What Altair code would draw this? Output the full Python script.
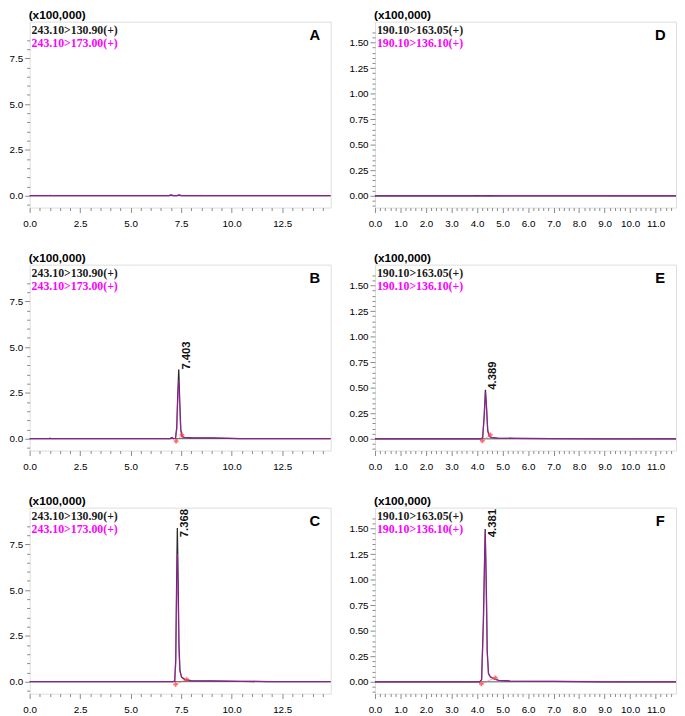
import altair as alt
import pandas as pd

# ---------------- data ----------------
LEFT_LEGEND = ["243.10>130.90(+)", "243.10>173.00(+)"]
RIGHT_LEGEND = ["190.10>163.05(+)", "190.10>136.10(+)"]
UNIT = "(x100,000)"

# Panel A (blank)
a_t   = [0.0, 0.95, 1.0, 1.05, 6.9, 7.0, 7.1, 7.3, 7.4, 7.5, 8.4, 8.5, 8.6, 14.9]
a_blk = [0, 0, 0, 0, 0, 0.04, 0, 0, 0.04, 0, 0, 0, 0, 0]
a_mag = [0, 0, 0.03, 0, 0, 0.05, 0, 0, 0.04, 0, 0, 0.02, 0, 0]

# Panel B
b_t   = [0.0, 0.95, 1.0, 1.05, 6.95, 7.05, 7.12, 7.22, 7.28, 7.33, 7.38, 7.43, 7.48, 7.54, 7.65, 8.0, 9.0, 9.8, 10.4, 14.9]
b_blk = [0, 0, 0.02, 0, 0, 0.06, 0, 0.02, 0.6, 2.4, 3.77, 2.0, 0.5, 0.12, 0.07, 0.05, 0.04, 0.02, 0, 0]
b_mag = [0, 0, 0.04, 0, 0, 0.05, 0, 0.02, 0.5, 2.1, 3.20, 1.7, 0.45, 0.11, 0.07, 0.05, 0.04, 0.03, 0, 0]
b_ev_t = [7.25, 7.54]
b_ev_v = [-0.14, 0.21]

# Panel C
c_t   = [0.0, 7.1, 7.18, 7.23, 7.27, 7.31, 7.35, 7.39, 7.44, 7.52, 7.7, 8.0, 9.0, 10.5, 11.8, 14.9]
c_blk = [0, 0, 0.03, 1.2, 5.0, 8.39, 5.5, 2.0, 0.6, 0.25, 0.1, 0.06, 0.04, 0.02, 0, 0]
c_mag = [0, 0, 0.03, 1.0, 4.2, 6.97, 4.6, 1.7, 0.55, 0.23, 0.1, 0.06, 0.04, 0.02, 0, 0]
c_ev_t = [7.22, 7.77]
c_ev_v = [-0.15, 0.12]

# Panel D (blank)
d_t   = [0.0, 3.8, 4.0, 4.2, 4.5, 4.7, 5.0, 9.0, 11.8]
d_blk = [0, 0, 0.003, 0, 0.003, 0, 0, 0, 0]
d_mag = [0, 0, 0, 0, 0, 0, 0.002, 0.002, 0]

# Panel E
e_t   = [0.0, 4.15, 4.22, 4.28, 4.33, 4.37, 4.42, 4.48, 4.56, 4.8, 5.5, 7.0, 9.0, 11.8]
e_blk = [0, 0, 0.01, 0.22, 0.48, 0.32, 0.08, 0.025, 0.015, 0.008, 0.004, 0.002, 0, 0]
e_mag = [0, 0, 0.01, 0.21, 0.46, 0.31, 0.08, 0.025, 0.015, 0.008, 0.004, 0.003, 0.001, 0]
e_ev_t = [4.21, 4.52]
e_ev_v = [-0.02, 0.04]

# Panel F
f_t   = [0.0, 4.1, 4.18, 4.25, 4.32, 4.36, 4.40, 4.45, 4.52, 4.65, 4.85, 5.3, 7.0, 9.0, 11.8]
f_blk = [0, 0, 0.02, 0.6, 1.495, 1.0, 0.3, 0.08, 0.05, 0.03, 0.015, 0.008, 0.004, 0, 0]
f_mag = [0, 0, 0.02, 0.55, 1.47, 0.95, 0.28, 0.08, 0.05, 0.03, 0.015, 0.008, 0.004, 0.002, 0]
f_ev_t = [4.17, 4.72]
f_ev_v = [-0.02, 0.04]

# ---------------- layout / style ----------------
W, H = 306, 189
SANS = "Liberation Sans"
SERIF = "Liberation Serif"

SIDES = {
    "left": dict(xdom=[0, 14.9], ydom=[-0.65, 9.5],
                 xmajor=2.5, xminor=0.5, xn=30, xfmt=".1f",
                 ymajor=2.5, yminor=0.5, ystart=-0.5, yn=19, yfmt=".1f",
                 legend=LEFT_LEGEND),
    "right": dict(xdom=[0, 11.8], ydom=[-0.115, 1.705],
                  xmajor=1.0, xminor=0.2, xn=59, xfmt=".1f",
                  ymajor=0.25, yminor=0.05, ystart=-0.1, yn=35, yfmt=".2f",
                  legend=RIGHT_LEGEND),
}


def make_axis(values, major, fmt, orient, **kw):
    test = f"abs(datum.value/{major} - round(datum.value/{major})) < 0.001"
    return alt.Axis(
        values=values, grid=False, domain=False,
        labelExpr=f"({test}) ? format(datum.value, '{fmt}') : ''",
        tickSize={"condition": {"test": test, "value": 5}, "value": 3},
        labelOverlap=False, labelFlush=False, orient=orient, title=None, **kw)


def txt(s, x, y, **kw):
    return alt.Chart(pd.DataFrame({"s": [s]})).mark_text(**kw).encode(
        x=alt.value(x), y=alt.value(y), text="s:N")


def panel(letter, t, blk, mag, ev_t, ev_v, rt, side):
    c = SIDES[side]
    xvals = [round(i * c["xminor"], 3) for i in range(c["xn"])]
    yvals = [round(c["ystart"] + i * c["yminor"], 3) for i in range(c["yn"])]
    xs = alt.Scale(domain=c["xdom"], nice=False, zero=False)
    ys = alt.Scale(domain=c["ydom"], nice=False, zero=False)
    xax = make_axis(xvals, c["xmajor"], c["xfmt"], "bottom", labelPadding=6)
    yax = make_axis(yvals, c["ymajor"], c["yfmt"], "left", labelPadding=2)
    X = alt.X("t:Q", scale=xs, axis=xax)
    Y = alt.Y("v:Q", scale=ys, axis=yax)

    base = alt.Chart(pd.DataFrame({"v": [0.0]})).mark_rule(
        color="#555555", strokeWidth=1).encode(y=Y)
    black = alt.Chart(pd.DataFrame({"t": t, "v": blk})).mark_line(
        color="#2a2a2a", strokeWidth=1.3, clip=True).encode(x=X, y=Y)
    magenta = alt.Chart(pd.DataFrame({"t": t, "v": mag})).mark_line(
        color="#d81fd8", strokeWidth=1.3, opacity=0.55, clip=True).encode(x=X, y=Y)
    layers = [base, black, magenta]

    if ev_t:
        ev = pd.DataFrame({"t": ev_t, "v": ev_v})
        layers.append(alt.Chart(ev).mark_line(color="#ff6060", strokeWidth=1,
                                               opacity=0.6).encode(x=X, y=Y))
        layers.append(alt.Chart(ev).mark_point(shape="cross", size=22, filled=True,
                                                color="#ff4040", opacity=0.75).encode(x=X, y=Y))
    if rt:
        i = blk.index(max(blk))
        y0, y1 = c["ydom"]
        label_v = min(blk[i], y1 - 30 * (y1 - y0) / H)
        lab = pd.DataFrame({"t": [t[i]], "v": [label_v], "s": [rt]})
        layers.append(alt.Chart(lab).mark_text(
            angle=270, align="left", baseline="top", dy=2, font=SANS,
            fontWeight="bold", fontSize=11.5, color="#111111").encode(x=X, y=Y, text="s:N"))

    leg = c["legend"]
    layers.append(txt(leg[0], 2, 9, align="left", baseline="middle", font=SERIF,
                      fontWeight="bold", fontSize=12, color="#1a1a1a"))
    layers.append(txt(leg[1], 2, 22, align="left", baseline="middle", font=SERIF,
                      fontWeight="bold", fontSize=12, color="#ff00ff"))
    layers.append(txt(letter, W - 16, 14, align="center", baseline="middle", font=SANS,
                      fontWeight="bold", fontSize=15, color="black"))
    layers.append(txt(UNIT, -1, -7, align="left", baseline="middle", font=SANS,
                      fontWeight="bold", fontSize=12, color="black"))

    return alt.layer(*layers).properties(width=W, height=H)


pA = panel("A", a_t, a_blk, a_mag, [], [], None, "left")
pB = panel("B", b_t, b_blk, b_mag, b_ev_t, b_ev_v, "7.403", "left")
pC = panel("C", c_t, c_blk, c_mag, c_ev_t, c_ev_v, "7.368", "left")
pD = panel("D", d_t, d_blk, d_mag, [], [], None, "right")
pE = panel("E", e_t, e_blk, e_mag, e_ev_t, e_ev_v, "4.389", "right")
pF = panel("F", f_t, f_blk, f_mag, f_ev_t, f_ev_v, "4.381", "right")

rows = [alt.hconcat(l, r, spacing=17) for l, r in [(pA, pD), (pB, pE), (pC, pF)]]
chart = alt.vconcat(*rows, spacing=22).properties(
    padding={"left": 0, "top": -6, "right": 0, "bottom": 0}
).configure_view(
    stroke="#8a8a8a", strokeWidth=1, fill="white"
).configure_axis(
    domain=False, grid=False, labelFont=SANS, labelFontWeight="bold",
    labelFontSize=10, labelColor="black", tickColor="#555555", tickWidth=1
).configure(background="white")

chart.save("out.html", embed_options={"renderer": "svg", "actions": False})
